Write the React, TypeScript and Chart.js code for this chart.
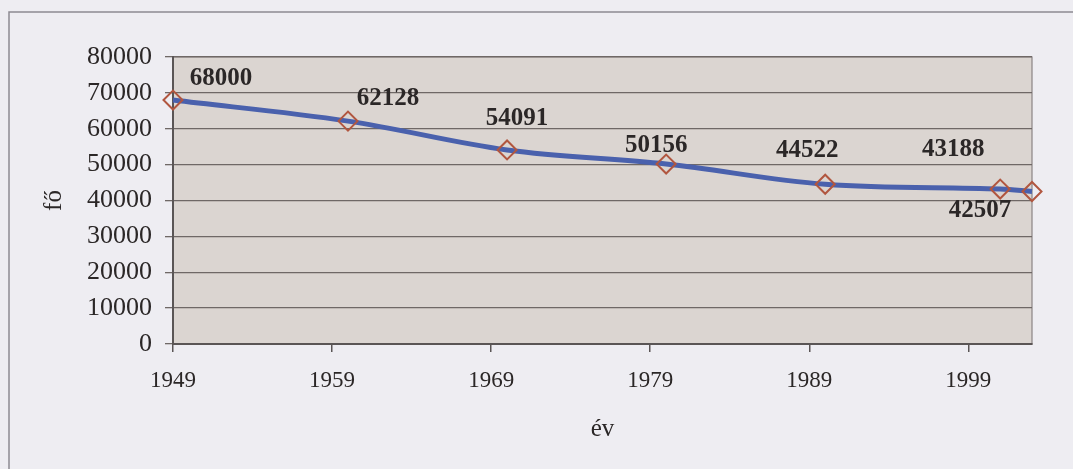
import React, { useEffect, useRef } from "react";
import { Chart, registerables } from "chart.js";

Chart.register(...registerables);

const years = [1949, 1960, 1970, 1980, 1990, 2001, 2003];
const population = [68000, 62128, 54091, 50156, 44522, 43188, 42507];
const xTickYears = [1949, 1959, 1969, 1979, 1989, 1999];
const yTickValues = [0, 10000, 20000, 30000, 40000, 50000, 60000, 70000, 80000];
const xTitle = "év";
const yTitle = "fő";

// label placement relative to each point (style only)
const labelOffsets: [number, number][] = [
  [48, -22],
  [40, -23],
  [10, -31],
  [-10, -19],
  [-18, -34],
  [-47, -40],
  [-52, 19],
];

const serif = "'Liberation Serif', 'Times New Roman', serif";

const backgroundPlugin = {
  id: "bgPlugin",
  beforeDraw(chart: any) {
    const { ctx, chartArea, width, height } = chart;
    ctx.save();
    ctx.fillStyle = "#eeedf2";
    ctx.fillRect(0, 0, width, height);
    ctx.strokeStyle = "#8d8b92";
    ctx.lineWidth = 1.5;
    ctx.beginPath();
    ctx.moveTo(9, height + 5);
    ctx.lineTo(9, 12);
    ctx.lineTo(width + 5, 12);
    ctx.stroke();
    ctx.fillStyle = "#dbd5d1";
    ctx.fillRect(chartArea.left, chartArea.top, chartArea.right - chartArea.left, chartArea.bottom - chartArea.top);
    ctx.strokeStyle = "#8a8484";
    ctx.lineWidth = 1.2;
    ctx.strokeRect(chartArea.left, chartArea.top, chartArea.right - chartArea.left, chartArea.bottom - chartArea.top);
    ctx.restore();
  },
};

const labelPlugin = {
  id: "valueLabels",
  afterDatasetsDraw(chart: any) {
    const { ctx } = chart;
    const meta = chart.getDatasetMeta(0);
    const data = chart.data.datasets[0].data as { x: number; y: number }[];
    ctx.save();
    ctx.font = `bold 25px ${serif}`;
    ctx.fillStyle = "#2b2727";
    ctx.textAlign = "center";
    ctx.textBaseline = "middle";
    meta.data.forEach((el: any, i: number) => {
      const off = labelOffsets[i] || [0, -20];
      ctx.fillText(String(data[i].y), el.x + off[0], el.y + off[1]);
    });
    ctx.restore();
  },
};

export default function App() {
  const ref = useRef<HTMLCanvasElement | null>(null);
  useEffect(() => {
    if (!ref.current) return;
    const chart = new Chart(ref.current, {
      type: "line",
      data: {
        datasets: [
          {
            data: years.map((y, i) => ({ x: y, y: population[i] })),
            borderColor: "#4a61ad",
            borderWidth: 5,
            tension: 0.35,
            pointStyle: "rectRot",
            pointRadius: 9.5,
            pointBorderWidth: 2,
            pointBorderColor: "#b1563f",
            pointBackgroundColor: "rgba(0,0,0,0)",
            fill: false,
            clip: false,
          } as any,
        ],
      },
      options: {
        animation: false,
        responsive: false,
        maintainAspectRatio: false,
        layout: { padding: { left: 0, top: 57, right: 41, bottom: 0 } },
        plugins: { legend: { display: false }, tooltip: { enabled: false } },
        scales: {
          x: {
            type: "linear",
            min: 1949,
            max: 2003,
            afterBuildTicks: (s: any) => {
              s.ticks = xTickYears.map((v) => ({ value: v }));
            },
            afterFit: (s: any) => {
              s.height = 125;
            },
            grid: {
              drawOnChartArea: false,
              drawTicks: true,
              tickLength: 8,
              color: "#5a5555",
              lineWidth: 1.5,
            },
            border: { color: "#5a5555", width: 2 },
            ticks: {
              color: "#2b2727",
              font: { family: serif, size: 23 },
              padding: 15,
              maxRotation: 0,
              autoSkip: false,
              callback: (v: any) => String(v),
            },
            title: {
              display: true,
              text: xTitle,
              color: "#2b2727",
              font: { family: serif, size: 25 },
              padding: { top: 0, bottom: 25 },
            },
          },
          y: {
            min: 0,
            max: 80000,
            afterBuildTicks: (s: any) => {
              s.ticks = yTickValues.map((v) => ({ value: v }));
            },
            afterFit: (s: any) => {
              s.width = 173;
            },
            grid: {
              drawOnChartArea: true,
              drawTicks: true,
              tickLength: 8,
              color: "#6f6866",
              lineWidth: 1.3,
            },
            border: { color: "#5a5555", width: 2 },
            ticks: {
              color: "#2b2727",
              font: { family: serif, size: 26 },
              padding: 13,
              callback: (v: any) => String(v),
            },
            title: {
              display: true,
              text: yTitle,
              color: "#2b2727",
              font: { family: serif, size: 25 },
              padding: { top: 39, bottom: 0 },
            },
          },
        },
      },
      plugins: [backgroundPlugin, labelPlugin],
    });
    return () => chart.destroy();
  }, []);
  return (
    <div style={{ position: "fixed", left: 0, top: 0, width: 1073, height: 469, background: "#eeedf2" }}>
      <canvas ref={ref} width={1073} height={469} style={{ display: "block", width: 1073, height: 469 }} />
    </div>
  );
}
